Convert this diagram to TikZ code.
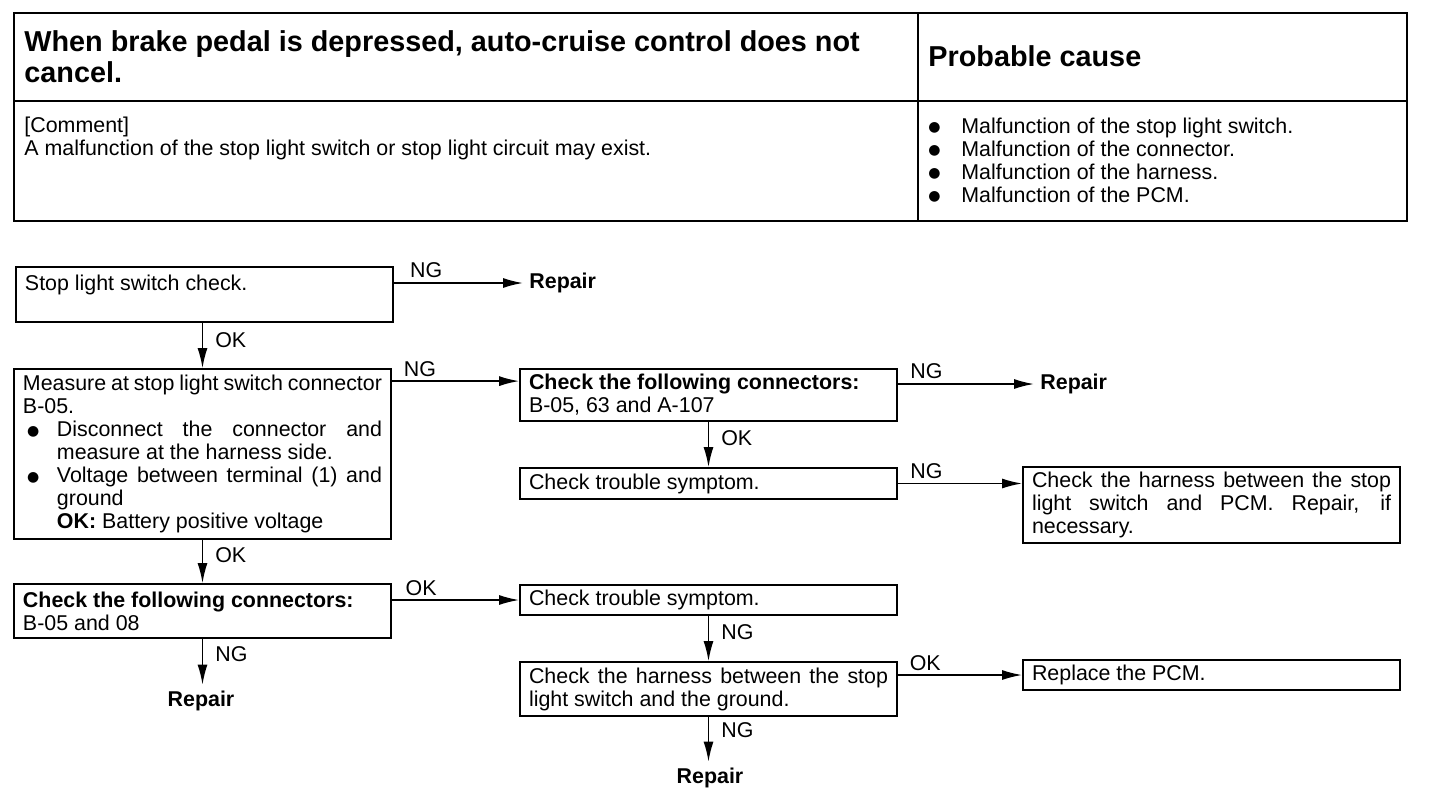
\documentclass[tikz,border=0pt]{standalone}
\usepackage{fontspec}
\setmainfont{Liberation Sans}
\newfontfamily\symfont{DejaVu Sans}
\usetikzlibrary{calc,arrows.meta}

\newcommand{\blt}{\raisebox{0.7pt}{\symfont\fontsize{7}{7}\selectfont ●}}

\begin{document}
\begin{tikzpicture}[x=0.5pt,y=-0.5pt,
	txt/.style={font=\fontsize{10.7}{11.5}\selectfont},
	stepbox/.style={draw,line width=0.9pt,rectangle,txt,align=justify,
		inner xsep=4.5pt,inner ysep=1pt,text width=179.5pt,minimum width=188.5pt},
	flow/.style={line width=0.8pt,-{Latex[length=10pt,width=5pt]}},
	lbl/.style={txt,inner sep=2pt},
	rep/.style={font=\fontsize{10.7}{11.5}\selectfont\bfseries,inner sep=3pt}
]
\useasboundingbox (0,0) rectangle (1440,804);

% table at the top
\draw [line width=1.3pt] (14,13) rectangle (1407,221);
\draw [line width=0.8pt] (14,101) -- (1407,101);
\draw [line width=0.8pt] (918,13) -- (918,221);

\node [anchor=west,inner sep=3pt,align=left,font=\fontsize{14.4}{15.5}\selectfont\bfseries] (title) at (18,57)
	{When brake pedal is depressed, auto-cruise control does not\\cancel.};
\node [anchor=west,inner sep=3pt,font=\fontsize{14.4}{15.5}\selectfont\bfseries] (cause) at (922,56) {Probable cause};
\node [anchor=west,inner sep=3pt,align=left,txt] (comment) at (18,138)
	{[Comment]\\A malfunction of the stop light switch or stop light circuit may exist.};
\node [anchor=west,inner sep=3pt,align=left,txt] (causes) at (922,160)
	{\makebox[16.5pt][l]{\blt}Malfunction of the stop light switch.\\
	 \makebox[16.5pt][l]{\blt}Malfunction of the connector.\\
	 \makebox[16.5pt][l]{\blt}Malfunction of the harness.\\
	 \makebox[16.5pt][l]{\blt}Malfunction of the PCM.};

% flow chart
\node [stepbox,minimum height=27.5pt] (switch) at (204.5,294.5)
	{Stop light switch check.\newline\mbox{}};
\node [stepbox,minimum height=85pt] (measure) at (202.5,454)
	{\noindent Measure at stop light switch connector\linebreak B-05.\par
	 \hangindent=17pt\hangafter=1\noindent\makebox[17pt][l]{\hspace{2pt}\blt}Disconnect the connector and\linebreak measure at the harness side.\par
	 \hangindent=17pt\hangafter=1\noindent\makebox[17pt][l]{\hspace{2pt}\blt}Voltage between terminal (1) and\linebreak ground\newline\textbf{OK:} Battery positive voltage\par};
\node [stepbox,minimum height=26pt] (conn1) at (708.5,395)
	{\textbf{Check the following connectors:}\\B-05, 63 and A-107};
\node [stepbox,minimum height=15.5pt] (symp1) at (708.5,483.5)
	{Check trouble symptom.};
\node [stepbox,minimum height=38pt] (harn1) at (1211.5,505)
	{Check the harness between the stop\linebreak light switch and PCM. Repair, if\linebreak necessary.};
\node [stepbox,minimum height=27pt] (conn2) at (202.5,611)
	{\textbf{Check the following connectors:}\\B-05 and 08};
\node [stepbox,minimum height=15pt] (symp2) at (708.5,600)
	{Check trouble symptom.};
\node [stepbox,minimum height=27pt] (harn2) at (708.5,689)
	{Check the harness between the stop\linebreak light switch and the ground.};
\node [stepbox,minimum height=15pt] (pcm) at (1211.5,675)
	{Replace the PCM.};

\node [rep,anchor=west] (rep1) at (523,283) {Repair};
\node [rep,anchor=west] (rep2) at (1034,384) {Repair};
\node [rep] (rep3) at (201,701) {Repair};
\node [rep] (rep4) at (710,778) {Repair};

% connectors
\draw [flow] (switch.east |- rep1) -- node [lbl,above,pos=0.25] {NG} (rep1.west);
\draw [flow] (measure.north |- switch.south) -- node [lbl,right,xshift=4pt,pos=0.38] {OK} (measure.north);
\draw [flow] ($(measure.north east)+(0,13)$) coordinate (m1)
	-- node [lbl,above,pos=0.22] {NG} (m1 -| conn1.west);
\draw [flow] (conn1.east |- rep2) -- node [lbl,above,pos=0.21] {NG} (rep2.west);
\draw [flow] (conn1.south -| symp1.north) -- node [lbl,right,xshift=4pt,pos=0.36] {OK} (symp1.north);
\draw [flow] (symp1.east) -- node [lbl,above,pos=0.23] {NG} (symp1.east -| harn1.west);
\draw [flow] (measure.south) -- node [lbl,right,xshift=4pt,pos=0.36] {OK} (conn2.north);
\draw [flow] (conn2.east |- symp2.west) -- node [lbl,above,pos=0.23] {OK} (symp2.west);
\draw [flow] (conn2.south) -- node [lbl,right,xshift=4pt,pos=0.33] {NG} (conn2.south |- rep3.north);
\draw [flow] (symp2.south) -- node [lbl,right,xshift=4pt,pos=0.36] {NG} (harn2.north);
\draw [flow] (harn2.east |- pcm.west) -- node [lbl,above,pos=0.22] {OK} (pcm.west);
\draw [flow] (harn2.south) -- node [lbl,right,xshift=4pt,pos=0.3] {NG} (harn2.south |- rep4.north);
\end{tikzpicture}
\end{document}
